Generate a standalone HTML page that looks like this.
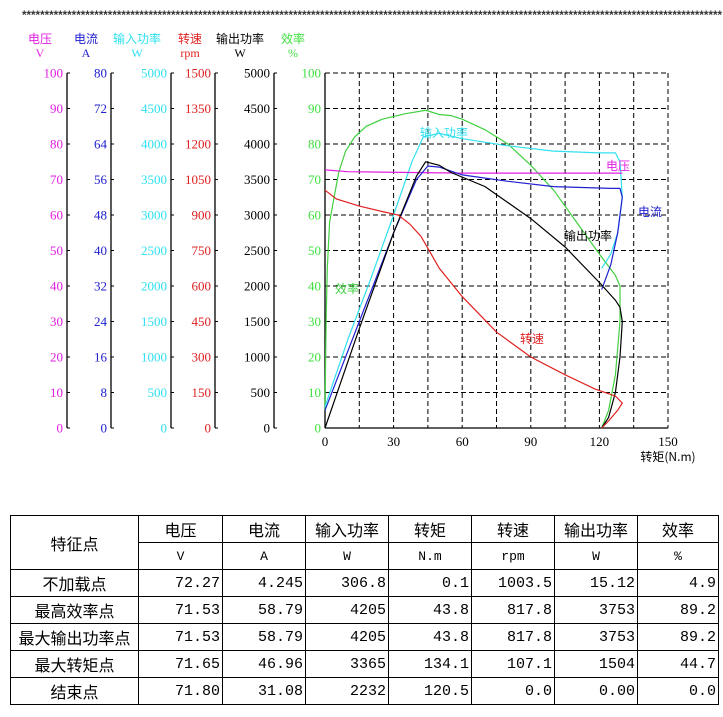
<!DOCTYPE html>
<html><head><meta charset="utf-8"><style>
body{margin:0;background:#fff;width:723px;height:717px;overflow:hidden}
svg{position:absolute;left:0;top:0}
table{position:absolute;left:10px;top:515px;border-collapse:collapse;font-family:"Liberation Serif","Noto Serif CJK SC","Noto Sans CJK SC",serif;font-size:16px}
td{border:1px solid #000;height:26px;padding:0 2px;text-align:right;font-family:"Liberation Mono","Noto Sans CJK SC",monospace;font-size:15px}
td.h{text-align:center;font-family:"Liberation Sans","Noto Sans CJK SC",sans-serif;font-size:16px}
td.u{text-align:center;font-size:13px}
</style></head><body>
<svg id="s" width="723" height="517" xmlns="http://www.w3.org/2000/svg" font-family="Liberation Serif, Noto Sans CJK SC, serif"></svg>
<table>
<tr><td class="h" rowspan="2" style="width:123px">特征点</td><td class="h" style="width:79px">电压</td><td class="h" style="width:78px">电流</td><td class="h" style="width:78px">输入功率</td><td class="h" style="width:78px">转矩</td><td class="h" style="width:78px">转速</td><td class="h" style="width:78px">输出功率</td><td class="h" style="width:76px">效率</td></tr>
<tr><td class="u">V</td><td class="u">A</td><td class="u">W</td><td class="u">N.m</td><td class="u">rpm</td><td class="u">W</td><td class="u">%</td></tr>
<tr><td class="h">不加载点</td><td>72.27</td><td>4.245</td><td>306.8</td><td>0.1</td><td>1003.5</td><td>15.12</td><td>4.9</td></tr>
<tr><td class="h">最高效率点</td><td>71.53</td><td>58.79</td><td>4205</td><td>43.8</td><td>817.8</td><td>3753</td><td>89.2</td></tr>
<tr><td class="h" style="white-space:nowrap;padding:0">最大输出功率点</td><td>71.53</td><td>58.79</td><td>4205</td><td>43.8</td><td>817.8</td><td>3753</td><td>89.2</td></tr>
<tr><td class="h">最大转矩点</td><td>71.65</td><td>46.96</td><td>3365</td><td>134.1</td><td>107.1</td><td>1504</td><td>44.7</td></tr>
<tr><td class="h">结束点</td><td>71.80</td><td>31.08</td><td>2232</td><td>120.5</td><td>0.0</td><td>0.00</td><td>0.0</td></tr>
</table>
<script>
var s='';
s+='<text x="22" y="19" font-family="Liberation Sans" font-weight="bold" font-size="12" fill="#333" textLength="700" lengthAdjust="spacingAndGlyphs">'+'*'.repeat(155)+'</text>';
var axes=[[67,'#e020e0','电压','V',40,function(i){return i*10}],
[111,'#2020d0','电流','A',86,function(i){return i*8}],
[171,'#30e0f0','输入功率','W',137,function(i){return i*500}],
[215,'#e02020','转速','rpm',190,function(i){return i*150}],
[274,'#000','输出功率','W',240,function(i){return i*500}],
[325,'#40e040','效率','%',293,function(i){return i*10}]];
function py(v){return 428-v*3.55}
function px(t){return 325+t*2.2867}
axes.forEach(function(a){
 s+='<text x="'+a[4]+'" y="43" font-size="12" fill="'+a[1]+'" text-anchor="middle" font-family="Noto Sans CJK SC">'+a[2]+'</text>';
 s+='<text x="'+a[4]+'" y="57" font-size="12" fill="'+a[1]+'" text-anchor="middle">'+a[3]+'</text>';
 if(a[0]!=325) s+='<line x1="'+a[0]+'" y1="73" x2="'+a[0]+'" y2="428" stroke="#000" stroke-width="1.3"/>';
 for(var i=0;i<=10;i++){var y=py(i*10);
  s+='<line x1="'+a[0]+'" y1="'+y+'" x2="'+(a[0]+3)+'" y2="'+y+'" stroke="#000"/>';
  s+='<text x="'+(a[0]-4)+'" y="'+(y+4.5)+'" font-size="13" fill="'+a[1]+'" text-anchor="end">'+a[5](i)+'</text>';}
});
for(var i=1;i<=10;i++){s+='<line x1="325" y1="'+py(i*10)+'" x2="668" y2="'+py(i*10)+'" stroke="#000" stroke-dasharray="5,3"/>';}
for(var i=1;i<=10;i++){var x=325+i*34.3;s+='<line x1="'+x+'" y1="73" x2="'+x+'" y2="428" stroke="#000" stroke-dasharray="5,3"/>';}
s+='<line x1="325" y1="73" x2="325" y2="428" stroke="#000" stroke-width="1.3"/><line x1="325" y1="428" x2="668" y2="428" stroke="#000" stroke-width="1.3"/>';
for(var i=0;i<=5;i++){var x=325+i*68.6;s+='<text x="'+x+'" y="446" font-size="13" text-anchor="middle">'+i*30+'</text>';}
s+='<text x="668" y="461" font-size="12" text-anchor="middle" font-family="Noto Sans CJK SC">转矩(N.m)</text>';
function pl(pts,c){var d=pts.map(function(p){return px(p[0]).toFixed(1)+','+py(p[1]).toFixed(1)}).join(' ');s+='<polyline points="'+d+'" fill="none" stroke="'+c+'" stroke-width="1.2"/>';}
pl([[0,5],[0.5,30],[1,45],[2,58],[4,65],[6,72],[9,78],[13,82],[18,85],[25,87],[35,88.5],[44,89.5],[50,88.3],[55,88],[60,87],[70,84],[80,80],[90,74],[100,67],[110,58],[120,49],[127,43],[129,40],[129,30],[127,15],[124,5],[121,0]],'#40d040');
pl([[0,6],[10,25],[20,42],[30,60],[38,75],[43,82],[50,83],[60,81.5],[80,79.5],[100,78],[120,77.5],[127,77.5],[129,75],[130,65],[128,55],[125,49],[121,45]],'#30e0f0');
pl([[0,72.7],[10,72.2],[60,71.8],[130,71.8]],'#e020e0');
pl([[0,5],[15,30],[30,55],[40,70],[45,73.8],[50,73.5],[60,71.3],[80,69.5],[100,68],[125,67.5],[129,67.5],[130,65],[128,55],[125,46],[121,39]],'#2020d0');
pl([[0,0],[15,28],[30,55],[40,71],[44,75],[50,74],[55,72],[70,68],[90,59],[105,51],[120,41],[127,36],[129,34],[130,30],[129,20],[127,10],[124,3],[121,0]],'#000');
pl([[0,67],[5,64.5],[15,62.5],[25,61],[32,60],[37,57.5],[42,54],[50,45],[60,37],[75,27],[90,20],[105,15],[118,11],[127,9],[130,7],[128,5],[124,2],[121,0]],'#e02020');
function lb(x,y,t,c){s+='<text x="'+x+'" y="'+y+'" font-size="12" fill="'+c+'" font-family="Noto Sans CJK SC">'+t+'</text>';}
lb(420,137,'输入功率','#30e0f0');lb(606,170,'电压','#e020e0');lb(638,216,'电流','#2020d0');lb(564,240,'输出功率','#000');lb(335,293,'效率','#40d040');lb(520,343,'转速','#e02020');
document.getElementById('s').innerHTML=s;
</script>
</body></html>
